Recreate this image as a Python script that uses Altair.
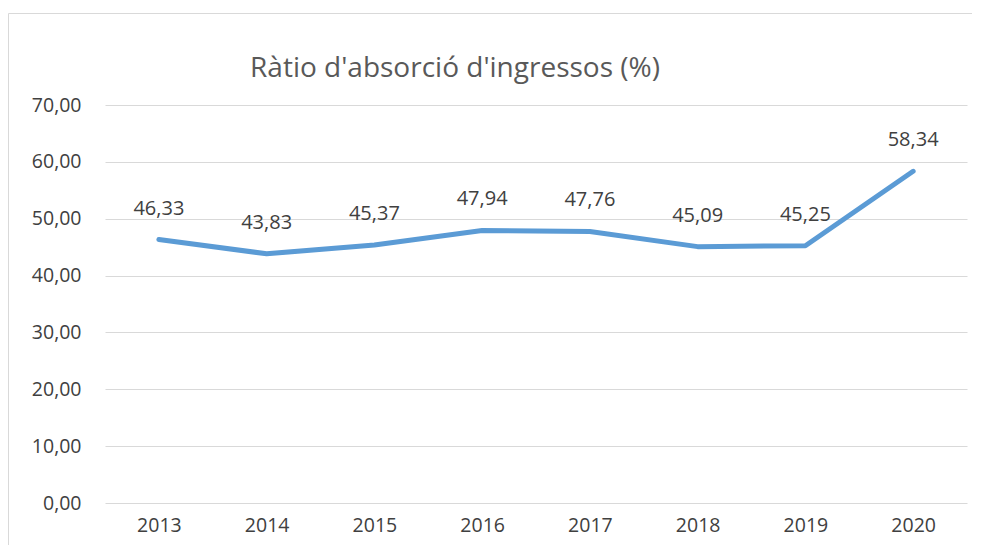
import altair as alt
import pandas as pd

years = ["2013", "2014", "2015", "2016", "2017", "2018", "2019", "2020"]
values = [46.33, 43.83, 45.37, 47.94, 47.76, 45.09, 45.25, 58.34]
y_ticks = [0, 10, 20, 30, 40, 50, 60, 70]
title_text = "Ràtio d'absorció d'ingressos (%)"

df = pd.DataFrame({"year": years, "value": values})

FONT = "Open Sans"
TXT = "#404040"

x_enc = alt.X("year:O", scale=alt.Scale(padding=0.5), sort=years,
              axis=alt.Axis(title=None, labelAngle=0, ticks=False, domain=False,
                            labelFontSize=19.5, labelColor=TXT, labelFont=FONT,
                            labelPadding=13, grid=False))
y_enc = alt.Y("value:Q", scale=alt.Scale(domain=[0, 70], nice=False),
              axis=alt.Axis(title=None, values=y_ticks, ticks=False, domain=False,
                            labelFontSize=19.5, labelColor=TXT, labelFont=FONT,
                            labelPadding=24, gridColor="#D9D9D9", gridWidth=1,
                            labelExpr="replace(format(datum.value, '.2f'), '.', ',')"))

base = alt.Chart(df)

border = base.mark_rect(fill="transparent", stroke="#D9D9D9", strokeWidth=1).encode(
    x=alt.value(-96.5), x2=alt.value(900), y=alt.value(-91.5), y2=alt.value(470)
).transform_filter("datum.year == '2013'")

title = base.mark_text(fontSize=28, color="#595959", font=FONT, align="center",
                       baseline="alphabetic").encode(
    x=alt.value(350), y=alt.value(-28), text=alt.value(title_text)
).transform_filter("datum.year == '2013'")

line = base.mark_line(color="#5B9BD5", strokeWidth=5, strokeCap="round",
                      strokeJoin="round").encode(x=x_enc, y=y_enc)

labels = base.mark_text(dy=-31, fontSize=20, color=TXT, font=FONT,
                        baseline="middle").encode(
    x=alt.X("year:O", sort=years), y="value:Q", text="label:N"
).transform_calculate(label="replace(format(datum.value, '.2f'), '.', ',')")

chart = alt.layer(border, title, line, labels).properties(
    width=862, height=398,
    autosize=alt.AutoSizeParams(type="none"),
    padding={"left": 97, "top": 97, "right": 5, "bottom": 42},
).configure(background="white").configure_view(stroke="transparent", strokeWidth=0)

chart.save("out.html", embed_options={"renderer": "svg", "actions": False})
